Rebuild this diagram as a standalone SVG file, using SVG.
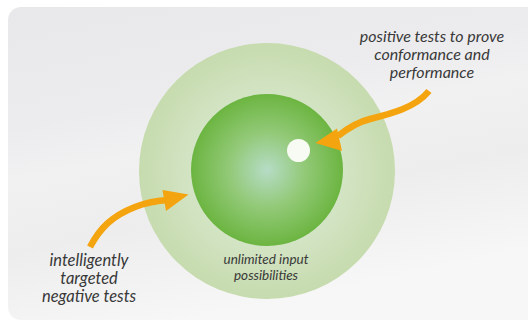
<svg xmlns="http://www.w3.org/2000/svg" width="528" height="325" viewBox="0 0 528 325">
<defs>
<linearGradient id="bg" x1="0" y1="0" x2="0.35" y2="1">
<stop offset="0" stop-color="#e8e8ea"/>
<stop offset="0.35" stop-color="#ececee"/>
<stop offset="0.5" stop-color="#f1f1f2"/>
<stop offset="0.7" stop-color="#ededee"/>
<stop offset="1" stop-color="#f7f7f7"/>
</linearGradient>
<radialGradient id="outer" cx="0.5" cy="0.5" r="0.5">
<stop offset="0" stop-color="#d9e8cf"/>
<stop offset="0.6" stop-color="#d3e4c4"/>
<stop offset="1" stop-color="#c6dbae"/>
</radialGradient>
<radialGradient id="inner" cx="0.5" cy="0.5" r="0.5">
<stop offset="0" stop-color="#b6dcc6"/>
<stop offset="0.5" stop-color="#92c977"/>
<stop offset="1" stop-color="#6cb541"/>
</radialGradient>
<style>
.lbl{font-family:Lato,"Open Sans",sans-serif;font-style:italic;fill:#383838;text-anchor:middle}
.arrow{fill:none;stroke:#f4a40e;stroke-width:6.5;stroke-linecap:butt}
.head{fill:#f4a40e}
</style>
</defs>
<rect x="0" y="0" width="528" height="325" fill="#ffffff"/>
<rect x="8" y="7" width="535" height="313" rx="13" fill="url(#bg)"/>
<g id="outer-circle"><circle cx="267" cy="171" r="128" fill="url(#outer)"/></g>
<g id="inner-circle"><circle cx="267" cy="170" r="76" fill="url(#inner)"/></g>
<g id="dot"><circle cx="298.5" cy="150.5" r="11.5" fill="#f8faf4"/></g>
<g id="connectors">
<path class="arrow" d="M429,91 C415,108 390,114 370,119 C358,122 348,128 338,136"/>
<polygon class="head" points="315.5,143 337,128.5 342,151"/>
<path class="arrow" d="M90,247 C100,228 112,216 135,207 C145,203 155,201 167,200"/>
<polygon class="head" points="188.5,194.5 162.5,190 166,211"/>
</g>
<g id="label-positive">
<text class="lbl" font-size="16" x="432" y="42">positive tests to prove</text>
<text class="lbl" font-size="16" x="432" y="60">conformance and</text>
<text class="lbl" font-size="16" x="432" y="78">performance</text>
</g>
<g id="label-negative">
<text class="lbl" font-size="16.5" x="89" y="266">intelligently</text>
<text class="lbl" font-size="16.5" x="89" y="284">targeted</text>
<text class="lbl" font-size="16.5" x="89" y="302">negative tests</text>
</g>
<g id="label-unlimited">
<text class="lbl" font-size="13.5" x="266" y="264">unlimited input</text>
<text class="lbl" font-size="13.5" x="266" y="279.5">possibilities</text>
</g>
</svg>
